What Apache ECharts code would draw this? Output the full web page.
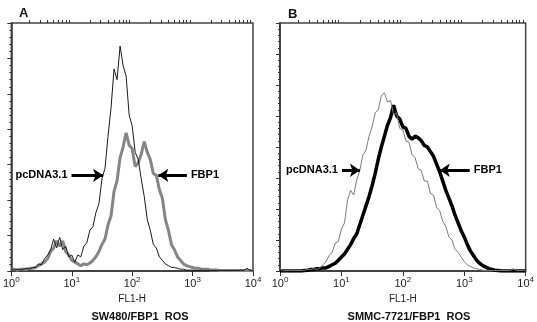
<!DOCTYPE html>
<html>
<head>
<meta charset="utf-8">
<script src="https://cdn.jsdelivr.net/npm/echarts@6/dist/echarts.min.js"></script>
<style>
  html, body { margin: 0; padding: 0; background: #fff; }
  #chart { width: 537px; height: 322px; }
</style>
</head>
<body>
<div id="chart"></div>
<script>
// channel positions, in decades of FL1-H (0 = 10^0 ... 4 = 10^4)
const fl1Exp = [
  0.00, 0.05, 0.10, 0.15, 0.20, 0.25, 0.30, 0.35, 0.40, 0.45,
  0.50, 0.55, 0.60, 0.65, 0.70, 0.75, 0.80, 0.85, 0.90, 0.95,
  1.00, 1.05, 1.10, 1.15, 1.20, 1.25, 1.30, 1.35, 1.40, 1.45,
  1.50, 1.55, 1.60, 1.65, 1.70, 1.75, 1.80, 1.85, 1.90, 1.95,
  2.00, 2.05, 2.10, 2.15, 2.20, 2.25, 2.30, 2.35, 2.40, 2.45,
  2.50, 2.55, 2.60, 2.65, 2.70, 2.75, 2.80, 2.85, 2.90, 2.95,
  3.00, 3.05, 3.10, 3.15, 3.20, 3.25, 3.30, 3.35, 3.40, 3.45,
  3.50, 3.55, 3.60, 3.65, 3.70, 3.75, 3.80, 3.85, 3.90, 3.95, 4.00
];

// panel A : SW480
const swPcdna = [
  1, 0.5, 1, 0.5, 1, 1.5, 1, 2, 2, 4,
  3.5, 7, 9, 12, 18, 13, 19, 12, 14, 8,
  9, 5, 9, 8, 14, 16, 23, 25, 33, 38,
  52, 58, 76, 92, 114, 108, 127, 116, 110, 88,
  82, 67, 63, 52, 42, 29, 23, 15, 13, 8,
  6, 4, 3, 2, 2, 1.5, 1, 1, 0.5, 0.5,
  0.5, 0.3, 0.3, 0.5, 0.3, 0.3, 0.3, 0.3, 0.3, 0.3,
  0.3, 0.3, 0.3, 0.3, 0.3, 0.3, 0.5, 0.3, 1.5, 0.3, 0
];
const swFbp1 = [
  1, 1, 0.5, 1, 1, 1, 1.5, 1.5, 2, 3,
  4, 5, 7, 11, 13, 17, 14, 17, 11, 9,
  6, 5, 4, 3, 4, 3.5, 4.5, 6, 8, 11,
  15, 18, 26, 31, 45, 51, 64, 70, 78, 71,
  69, 59, 61, 66, 73, 67, 63, 55, 54, 46,
  41, 29, 23, 15, 12, 8, 6, 4, 3, 2.5,
  2, 1.5, 1.5, 1, 1, 1, 0.5, 0.5, 0.5, 0.3,
  0.3, 0.3, 0.3, 0.3, 0.3, 0.3, 0.3, 0.3, 0.3, 0.3, 0
];

// panel B : SMMC-7721
const smmcPcdna = [
  1.5, 0, 0.3, 0.3, 0.3, 0.3, 0.3, 0.3, 0.5, 1,
  1, 1.5, 1, 2, 4, 6, 10, 12, 18, 19,
  27, 31, 46, 52, 49, 59, 65, 75, 78, 87,
  93, 102, 104, 113, 115, 109, 110, 101, 102, 92,
  91, 84, 83, 75, 73, 66, 65, 58, 58, 50,
  49, 41, 39, 32, 29, 22, 20, 14, 12, 9,
  6, 4, 3, 2, 1.5, 1, 0.5, 0.3, 0.3, 0.3,
  0.3, 0.3, 0.3, 0.3, 0.3, 0.3, 1.5, 0.3, 0.3, 0.3, 0
];
const smmcFbp1 = [
  0, 0, 0, 0, 0, 0, 0, 0, 0.3, 0.5,
  1, 1, 1.5, 1.5, 2, 2, 3, 4, 5, 7,
  9, 11, 14, 17, 21, 24, 30, 36, 42, 48,
  55, 63, 72, 80, 87, 94, 99, 107, 100, 98,
  93, 92, 87, 85, 87, 86, 84, 81, 80, 77,
  74, 69, 64, 58, 52, 47, 42, 36, 31, 26,
  22, 17, 13, 10, 7, 5, 3.5, 2.5, 1.5, 1,
  0.5, 0.3, 0, 0, 0, 0, 0, 0, 0, 0, 0
];

const majorTicks = [1, 10, 100, 1000, 10000];
const minorTicks = [
  2, 3, 4, 5, 6, 7, 8, 9,
  20, 30, 40, 50, 60, 70, 80, 90,
  200, 300, 400, 500, 600, 700, 800, 900,
  2000, 3000, 4000, 5000, 6000, 7000, 8000, 9000
];

const toPoints = vals => fl1Exp.map((e, i) => [Math.pow(10, e), vals[i]]);

const chart = echarts.init(document.getElementById('chart'), null, { renderer: 'canvas' });

const font = 'Liberation Sans, Arial, sans-serif';

function xMajor(gridIndex, nameGap) {
  return {
    type: 'log', logBase: 10, min: 1, max: 10000, gridIndex,
    name: 'FL1-H', nameLocation: 'middle', nameGap,
    nameTextStyle: { fontFamily: font, fontSize: 10, color: '#222' },
    axisLine: { show: true, lineStyle: { color: '#333', width: 1.5 } },
    axisTick: { show: true, customValues: majorTicks, length: 5, lineStyle: { color: '#333' } },
    axisLabel: {
      customValues: majorTicks, margin: 5,
      formatter: v => '{b|10}{s|' + Math.round(Math.log10(v)) + '}',
      rich: {
        b: { fontFamily: font, fontSize: 11, color: '#222' },
        s: { fontFamily: font, fontSize: 8, color: '#222', verticalAlign: 'top', padding: [0, 0, 7, 0] }
      }
    },
    splitLine: { show: false }
  };
}
function xMinor(gridIndex) {
  return {
    type: 'log', logBase: 10, min: 1, max: 10000, gridIndex,
    axisLine: { show: false },
    axisTick: { show: true, customValues: minorTicks, length: 3, lineStyle: { color: '#333' } },
    axisLabel: { show: false },
    splitLine: { show: false }
  };
}
function yAxis(gridIndex, max) {
  return {
    type: 'value', min: 0, max, interval: 20, gridIndex,
    axisLine: { show: true, lineStyle: { color: '#333', width: 1.5 } },
    axisTick: { show: true, length: 4, lineStyle: { color: '#333' } },
    minorTick: { show: true, splitNumber: 5, length: 2, lineStyle: { color: '#333' } },
    axisLabel: { show: false },
    splitLine: { show: false }
  };
}

const arrowStyle = {
  silent: true, animation: false,
  symbol: ['none', 'arrow'], symbolSize: 10,
  lineStyle: { color: '#000', width: 3, type: 'solid' },
  label: { show: true, position: 'start', distance: 4, fontFamily: font, fontSize: 11, fontWeight: 'bold', color: '#000' }
};

const option = {
  animation: false,
  backgroundColor: '#fff',
  title: [
    { text: 'A', left: 14, top: 2, textStyle: { fontFamily: font, fontSize: 13, fontWeight: 'bold', color: '#111' } },
    { text: 'B', left: 283, top: 3, textStyle: { fontFamily: font, fontSize: 13, fontWeight: 'bold', color: '#111' } },
    { text: 'SW480/FBP1  ROS', left: 135, textAlign: 'center', top: 306, textStyle: { fontFamily: font, fontSize: 11, fontWeight: 'bold', color: '#111' } },
    { text: 'SMMC-7721/FBP1  ROS', left: 404, textAlign: 'center', top: 306, textStyle: { fontFamily: font, fontSize: 11, fontWeight: 'bold', color: '#111' } }
  ],
  grid: [
    { left: 8, top: 23, width: 245, height: 248, show: true, borderColor: '#444', borderWidth: 1.5 },
    { left: 280, top: 23, width: 246, height: 248, show: true, borderColor: '#444', borderWidth: 1.5 }
  ],
  xAxis: [xMajor(0, 16), xMinor(0), xMajor(1, 18), xMinor(1)],
  yAxis: [yAxis(0, 140), yAxis(1, 160)],
  series: [
    {
      name: 'FBP1', type: 'line', xAxisIndex: 0, yAxisIndex: 0, z: 2,
      showSymbol: false, data: toPoints(swFbp1),
      lineStyle: { color: '#858585', width: 3 }
    },
    {
      name: 'pcDNA3.1', type: 'line', xAxisIndex: 0, yAxisIndex: 0, z: 3,
      showSymbol: false, data: toPoints(swPcdna),
      lineStyle: { color: '#1a1a1a', width: 1 },
      markLine: Object.assign({}, arrowStyle, {
        data: [
          [{ coord: [9.9, 54], label: { formatter: 'pcDNA3.1' } }, { coord: [33, 54] }],
          [{ coord: [805, 54], label: { formatter: 'FBP1' } }, { coord: [271, 54] }]
        ]
      })
    },
    {
      name: 'FBP1', type: 'line', xAxisIndex: 2, yAxisIndex: 1, z: 2,
      showSymbol: false, data: toPoints(smmcFbp1),
      lineStyle: { color: '#000', width: 3.5 }
    },
    {
      name: 'pcDNA3.1', type: 'line', xAxisIndex: 2, yAxisIndex: 1, z: 3,
      showSymbol: false, data: toPoints(smmcPcdna),
      lineStyle: { color: '#7a7a7a', width: 1 },
      markLine: Object.assign({}, arrowStyle, {
        data: [
          [{ coord: [10.2, 65], label: { formatter: 'pcDNA3.1' } }, { coord: [20, 65] }],
          [{ coord: [1230, 65], label: { formatter: 'FBP1' } }, { coord: [400, 65] }]
        ]
      })
    }
  ]
};

chart.setOption(option);
</script>
</body>
</html>
